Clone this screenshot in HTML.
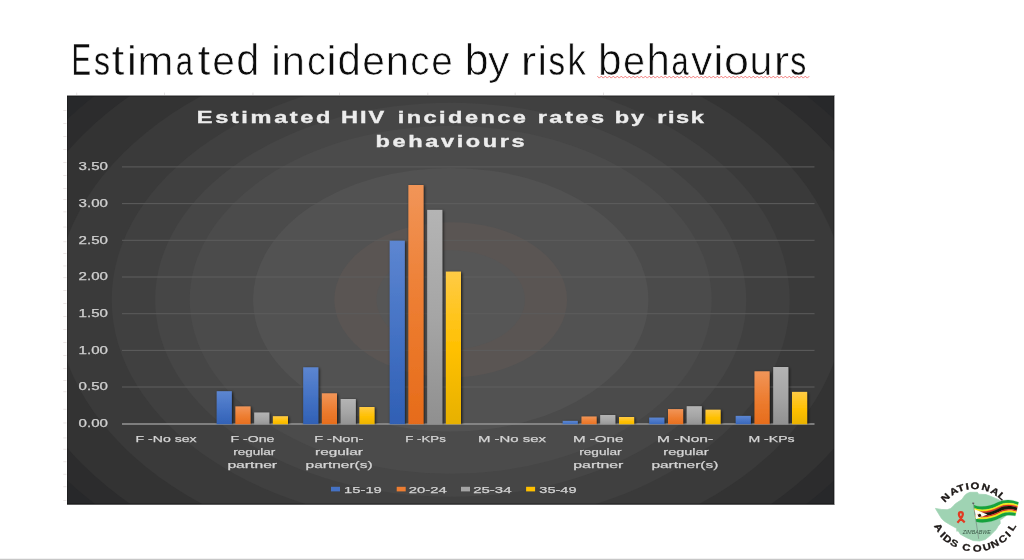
<!DOCTYPE html>
<html><head><meta charset="utf-8"><title>Estimated incidence by risk behaviours</title>
<style>html,body{margin:0;padding:0;background:#fff;}body{width:1024px;height:560px;overflow:hidden;font-family:"Liberation Sans",sans-serif;}svg{display:block;}text{font-family:"Liberation Sans",sans-serif;}</style>
</head><body>
<svg width="1024" height="560" viewBox="0 0 1024 560">
<defs>
<clipPath id="cb"><rect x="100" y="150" width="740" height="274.3"/></clipPath>
<clipPath id="cc"><rect x="67" y="96" width="767" height="408"/></clipPath>
<linearGradient id="gb" x1="0" y1="0" x2="0" y2="1"><stop offset="0" stop-color="#5d86d1"/><stop offset="0.5" stop-color="#4472c4"/><stop offset="1" stop-color="#2f5fb4"/></linearGradient>
<linearGradient id="go" x1="0" y1="0" x2="0" y2="1"><stop offset="0" stop-color="#f19558"/><stop offset="0.5" stop-color="#ed7d31"/><stop offset="1" stop-color="#e66b19"/></linearGradient>
<linearGradient id="gg" x1="0" y1="0" x2="0" y2="1"><stop offset="0" stop-color="#b4b4b4"/><stop offset="0.5" stop-color="#a5a5a5"/><stop offset="1" stop-color="#8f8f8f"/></linearGradient>
<linearGradient id="gy" x1="0" y1="0" x2="0" y2="1"><stop offset="0" stop-color="#ffcb45"/><stop offset="0.5" stop-color="#ffc000"/><stop offset="1" stop-color="#e6b000"/></linearGradient>
<filter id="sh" x="-50%" y="-20%" width="200%" height="140%"><feGaussianBlur in="SourceAlpha" stdDeviation="1.6" result="b"/><feOffset in="b" dx="0.8" dy="0.6" result="o"/><feComponentTransfer in="o" result="s"><feFuncA type="linear" slope="0.75"/></feComponentTransfer><feGaussianBlur in="SourceGraphic" stdDeviation="0.45" result="g"/><feMerge><feMergeNode in="s"/><feMergeNode in="g"/></feMerge></filter>
<filter id="bl" x="-5%" y="-30%" width="110%" height="160%"><feGaussianBlur stdDeviation="0.55"/></filter>
<filter id="bl2" x="-5%" y="-30%" width="110%" height="160%"><feGaussianBlur stdDeviation="0.3"/></filter>
<filter id="lb" x="-10%" y="-10%" width="120%" height="120%"><feGaussianBlur stdDeviation="0.4"/></filter>
</defs>
<g fill="#0c0c0c" font-size="41.5" opacity="0.999" stroke="#ffffff" paint-order="fill stroke">
<text transform="translate(71.58,74.60) scale(0.706,1.060)" stroke-width="0.3" vector-effect="non-scaling-stroke">E</text>
<text transform="translate(94.12,74.60) scale(0.771,1.000)" stroke-width="0.3" vector-effect="non-scaling-stroke">s</text>
<text transform="translate(111.48,74.60) scale(1.120,1.030)" stroke-width="0.7" vector-effect="non-scaling-stroke">t</text>
<text transform="translate(126.91,74.60) scale(1.060,1.000)" stroke-width="0.35" vector-effect="non-scaling-stroke">i</text>
<text transform="translate(137.16,74.60) scale(1.050,1.000)" stroke-width="0.7" vector-effect="non-scaling-stroke">m</text>
<text transform="translate(175.69,74.60) scale(0.744,1.000)" stroke-width="0.3" vector-effect="non-scaling-stroke">a</text>
<text transform="translate(197.38,74.60) scale(1.120,1.030)" stroke-width="0.7" vector-effect="non-scaling-stroke">t</text>
<text transform="translate(212.36,74.60) scale(0.984,1.000)" stroke-width="0.7" vector-effect="non-scaling-stroke">e</text>
<text transform="translate(236.23,74.60) scale(1.001,1.090)" stroke-width="0.7" vector-effect="non-scaling-stroke">d</text>
<text transform="translate(271.28,74.60) scale(1.033,1.000)" stroke-width="0.35" vector-effect="non-scaling-stroke">i</text>
<text transform="translate(281.79,74.60) scale(1.004,1.000)" stroke-width="0.7" vector-effect="non-scaling-stroke">n</text>
<text transform="translate(306.89,74.60) scale(0.913,1.000)" stroke-width="0.7" vector-effect="non-scaling-stroke">c</text>
<text transform="translate(326.78,74.60) scale(1.033,1.000)" stroke-width="0.35" vector-effect="non-scaling-stroke">i</text>
<text transform="translate(337.41,74.60) scale(1.012,1.090)" stroke-width="0.7" vector-effect="non-scaling-stroke">d</text>
<text transform="translate(362.16,74.60) scale(0.984,1.000)" stroke-width="0.7" vector-effect="non-scaling-stroke">e</text>
<text transform="translate(385.87,74.60) scale(1.009,1.000)" stroke-width="0.7" vector-effect="non-scaling-stroke">n</text>
<text transform="translate(410.36,74.60) scale(0.930,1.000)" stroke-width="0.7" vector-effect="non-scaling-stroke">c</text>
<text transform="translate(431.25,74.60) scale(0.933,1.000)" stroke-width="0.7" vector-effect="non-scaling-stroke">e</text>
<text transform="translate(464.71,74.60) scale(1.033,1.090)" stroke-width="0.7" vector-effect="non-scaling-stroke">b</text>
<text transform="translate(487.89,74.60) scale(1.032,1.000)" stroke-width="0.7" vector-effect="non-scaling-stroke">y</text>
<text transform="translate(520.86,74.60) scale(1.120,1.000)" stroke-width="0.7" vector-effect="non-scaling-stroke">r</text>
<text transform="translate(537.98,74.60) scale(0.936,1.000)" stroke-width="0.3" vector-effect="non-scaling-stroke">i</text>
<text transform="translate(548.49,74.60) scale(0.799,1.000)" stroke-width="0.3" vector-effect="non-scaling-stroke">s</text>
<text transform="translate(567.16,74.60) scale(0.908,1.090)" stroke-width="0.7" vector-effect="non-scaling-stroke">k</text>
<text transform="translate(598.04,74.60) scale(1.023,1.090)" stroke-width="0.7" vector-effect="non-scaling-stroke">b</text>
<text transform="translate(622.91,74.60) scale(0.959,1.000)" stroke-width="0.7" vector-effect="non-scaling-stroke">e</text>
<text transform="translate(646.57,74.60) scale(1.009,1.090)" stroke-width="0.7" vector-effect="non-scaling-stroke">h</text>
<text transform="translate(671.60,74.60) scale(0.739,1.000)" stroke-width="0.3" vector-effect="non-scaling-stroke">a</text>
<text transform="translate(691.09,74.60) scale(1.027,1.000)" stroke-width="0.7" vector-effect="non-scaling-stroke">v</text>
<text transform="translate(713.86,74.60) scale(1.005,1.000)" stroke-width="0.35" vector-effect="non-scaling-stroke">i</text>
<text transform="translate(723.89,74.60) scale(1.081,1.000)" stroke-width="0.7" vector-effect="non-scaling-stroke">o</text>
<text transform="translate(749.52,74.60) scale(0.992,1.000)" stroke-width="0.7" vector-effect="non-scaling-stroke">u</text>
<text transform="translate(773.76,74.60) scale(1.120,1.000)" stroke-width="0.7" vector-effect="non-scaling-stroke">r</text>
<text transform="translate(790.22,74.60) scale(0.771,1.000)" stroke-width="0.3" vector-effect="non-scaling-stroke">s</text>
</g>
<polyline points="597.3,76.1 599.3,78.1 601.3,76.1 603.3,78.1 605.3,76.1 607.3,78.1 609.3,76.1 611.3,78.1 613.3,76.1 615.3,78.1 617.3,76.1 619.3,78.1 621.3,76.1 623.3,78.1 625.3,76.1 627.3,78.1 629.3,76.1 631.3,78.1 633.3,76.1 635.3,78.1 637.3,76.1 639.3,78.1 641.3,76.1 643.3,78.1 645.3,76.1 647.3,78.1 649.3,76.1 651.3,78.1 653.3,76.1 655.3,78.1 657.3,76.1 659.3,78.1 661.3,76.1 663.3,78.1 665.3,76.1 667.3,78.1 669.3,76.1 671.3,78.1 673.3,76.1 675.3,78.1 677.3,76.1 679.3,78.1 681.3,76.1 683.3,78.1 685.3,76.1 687.3,78.1 689.3,76.1 691.3,78.1 693.3,76.1 695.3,78.1 697.3,76.1 699.3,78.1 701.3,76.1 703.3,78.1 705.3,76.1 707.3,78.1 709.3,76.1 711.3,78.1 713.3,76.1 715.3,78.1 717.3,76.1 719.3,78.1 721.3,76.1 723.3,78.1 725.3,76.1 727.3,78.1 729.3,76.1 731.3,78.1 733.3,76.1 735.3,78.1 737.3,76.1 739.3,78.1 741.3,76.1 743.3,78.1 745.3,76.1 747.3,78.1 749.3,76.1 751.3,78.1 753.3,76.1 755.3,78.1 757.3,76.1 759.3,78.1 761.3,76.1 763.3,78.1 765.3,76.1 767.3,78.1 769.3,76.1 771.3,78.1 773.3,76.1 775.3,78.1 777.3,76.1 779.3,78.1 781.3,76.1 783.3,78.1 785.3,76.1 787.3,78.1 789.3,76.1 791.3,78.1 793.3,76.1 795.3,78.1 797.3,76.1 799.3,78.1 801.3,76.1 803.3,78.1 805.3,76.1 807.3,78.1 809.3,76.1" fill="none" stroke="#f0504e" stroke-width="0.9" stroke-linejoin="round" opacity="0.8"/>
<g clip-path="url(#cc)">
<rect x="66" y="95" width="769" height="410" fill="#27282a"/>
<ellipse cx="450.7" cy="299.8" rx="469.5" ry="313" fill="#2c2c2d"/>
<ellipse cx="450.7" cy="299.8" rx="443.25" ry="295.5" fill="#333333"/>
<ellipse cx="450.7" cy="299.8" rx="394.5" ry="263" fill="#3a3a3a"/>
<ellipse cx="450.7" cy="299.8" rx="339" ry="226" fill="#404040"/>
<ellipse cx="450.7" cy="299.8" rx="295.5" ry="197" fill="#464646"/>
<ellipse cx="450.7" cy="299.8" rx="261" ry="174" fill="#4b4b4b"/>
<ellipse cx="450.7" cy="299.8" rx="197.7" ry="131.8" fill="#525252"/>
<ellipse cx="450.7" cy="299.8" rx="116.4" ry="77.6" fill="#5a5553"/>
<ellipse cx="450.7" cy="299.8" rx="74.25" ry="49.5" fill="#565656"/>
</g>
<rect x="67" y="96" width="767" height="1" fill="#000" opacity="0.22"/>
<rect x="67" y="96" width="1" height="408" fill="#000" opacity="0.22"/>
<rect x="833" y="96" width="1" height="408" fill="#000" opacity="0.22"/>
<rect x="67" y="503" width="767" height="1" fill="#000" opacity="0.22"/>
<rect x="67" y="95" width="767.4" height="1" fill="#2b2b2d" opacity="0.5"/>
<rect x="67" y="504" width="767.4" height="1" fill="#252527" opacity="0.75"/>
<rect x="834" y="95.5" width="1" height="409" fill="#252527" opacity="0.4"/>
<rect x="63.3" y="211.4" width="3.2" height="0.9" fill="#e9e3e3"/>
<rect x="63.3" y="226.6" width="3.2" height="0.9" fill="#e9e3e3"/>
<rect x="63.3" y="241.3" width="3.2" height="0.9" fill="#e9e3e3"/>
<rect x="63.3" y="253.1" width="3.2" height="0.9" fill="#e9e3e3"/>
<rect x="63.3" y="265.5" width="3.2" height="0.9" fill="#e9e3e3"/>
<rect x="63.3" y="277.2" width="3.2" height="0.9" fill="#e9e3e3"/>
<rect x="63.3" y="391.3" width="3.2" height="0.9" fill="#e9e3e3"/>
<rect x="63.3" y="408.8" width="3.2" height="0.9" fill="#e9e3e3"/>
<rect x="63.3" y="422.5" width="3.2" height="0.9" fill="#e9e3e3"/>
<rect x="63.3" y="437.5" width="3.2" height="0.9" fill="#e9e3e3"/>
<rect x="63.3" y="448.8" width="3.2" height="0.9" fill="#e9e3e3"/>
<rect x="63.3" y="461.3" width="3.2" height="0.9" fill="#e9e3e3"/>
<rect x="63.3" y="473.8" width="3.2" height="0.9" fill="#e9e3e3"/>
<rect x="63.3" y="486.3" width="3.2" height="0.9" fill="#e9e3e3"/>
<rect x="63.3" y="500.0" width="3.2" height="0.9" fill="#e9e3e3"/>
<rect x="63.3" y="110.0" width="3.2" height="0.9" fill="#e9e3e3"/>
<rect x="63.3" y="123.0" width="3.2" height="0.9" fill="#e9e3e3"/>
<rect x="63.3" y="136.0" width="3.2" height="0.9" fill="#e9e3e3"/>
<rect x="63.3" y="149.0" width="3.2" height="0.9" fill="#e9e3e3"/>
<rect x="63.3" y="162.0" width="3.2" height="0.9" fill="#e9e3e3"/>
<rect x="63.3" y="175.0" width="3.2" height="0.9" fill="#e9e3e3"/>
<rect x="63.3" y="188.0" width="3.2" height="0.9" fill="#e9e3e3"/>
<rect x="63.3" y="199.0" width="3.2" height="0.9" fill="#e9e3e3"/>
<rect x="63.3" y="290.0" width="3.2" height="0.9" fill="#e9e3e3"/>
<rect x="63.3" y="303.0" width="3.2" height="0.9" fill="#e9e3e3"/>
<rect x="63.3" y="316.0" width="3.2" height="0.9" fill="#e9e3e3"/>
<rect x="63.3" y="329.0" width="3.2" height="0.9" fill="#e9e3e3"/>
<rect x="63.3" y="342.0" width="3.2" height="0.9" fill="#e9e3e3"/>
<rect x="63.3" y="355.0" width="3.2" height="0.9" fill="#e9e3e3"/>
<rect x="63.3" y="368.0" width="3.2" height="0.9" fill="#e9e3e3"/>
<rect x="63.3" y="380.0" width="3.2" height="0.9" fill="#e9e3e3"/>
<rect x="76.3" y="92.6" width="0.9" height="2.4" fill="#e4e0e0"/>
<rect x="164.0" y="92.6" width="0.9" height="2.4" fill="#e4e0e0"/>
<rect x="252.5" y="92.6" width="0.9" height="2.4" fill="#e4e0e0"/>
<rect x="339.0" y="92.6" width="0.9" height="2.4" fill="#e4e0e0"/>
<rect x="427.4" y="92.6" width="0.9" height="2.4" fill="#e4e0e0"/>
<rect x="514.7" y="92.6" width="0.9" height="2.4" fill="#e4e0e0"/>
<rect x="603.0" y="92.6" width="0.9" height="2.4" fill="#e4e0e0"/>
<rect x="691.5" y="92.6" width="0.9" height="2.4" fill="#e4e0e0"/>
<rect x="778.0" y="92.6" width="0.9" height="2.4" fill="#e4e0e0"/>
<g filter="url(#bl2)">
<line x1="122" y1="166.9" x2="814.5" y2="166.9" stroke="#5d5d5d" stroke-width="1"/>
<line x1="122" y1="203.6" x2="814.5" y2="203.6" stroke="#5d5d5d" stroke-width="1"/>
<line x1="122" y1="240.3" x2="814.5" y2="240.3" stroke="#5d5d5d" stroke-width="1"/>
<line x1="122" y1="277.0" x2="814.5" y2="277.0" stroke="#5d5d5d" stroke-width="1"/>
<line x1="122" y1="313.7" x2="814.5" y2="313.7" stroke="#5d5d5d" stroke-width="1"/>
<line x1="122" y1="350.4" x2="814.5" y2="350.4" stroke="#5d5d5d" stroke-width="1"/>
<line x1="122" y1="387.0" x2="814.5" y2="387.0" stroke="#5d5d5d" stroke-width="1"/>
<line x1="122" y1="424.0" x2="814.5" y2="424.0" stroke="#959595" stroke-width="1.7"/>
</g>
<g clip-path="url(#cb)"><g filter="url(#sh)">
<rect x="216.7" y="391.2" width="15.1" height="35.5" fill="url(#gb)"/>
<rect x="235.4" y="406.4" width="15.1" height="20.3" fill="url(#go)"/>
<rect x="254.2" y="412.5" width="15.1" height="14.2" fill="url(#gg)"/>
<rect x="272.9" y="416.2" width="15.1" height="10.5" fill="url(#gy)"/>
<rect x="303.2" y="367.3" width="15.1" height="59.4" fill="url(#gb)"/>
<rect x="321.9" y="393.3" width="15.1" height="33.4" fill="url(#go)"/>
<rect x="340.7" y="399.0" width="15.1" height="27.7" fill="url(#gg)"/>
<rect x="359.4" y="407.0" width="15.1" height="19.7" fill="url(#gy)"/>
<rect x="389.7" y="240.7" width="15.1" height="186.0" fill="url(#gb)"/>
<rect x="408.4" y="185.0" width="15.1" height="241.7" fill="url(#go)"/>
<rect x="427.2" y="209.9" width="15.1" height="216.8" fill="url(#gg)"/>
<rect x="445.9" y="271.6" width="15.1" height="155.1" fill="url(#gy)"/>
<rect x="562.7" y="420.9" width="15.1" height="5.8" fill="url(#gb)"/>
<rect x="581.5" y="416.5" width="15.1" height="10.2" fill="url(#go)"/>
<rect x="600.2" y="415.0" width="15.1" height="11.7" fill="url(#gg)"/>
<rect x="619.0" y="417.0" width="15.1" height="9.7" fill="url(#gy)"/>
<rect x="649.2" y="417.6" width="15.1" height="9.1" fill="url(#gb)"/>
<rect x="668.0" y="409.1" width="15.1" height="17.6" fill="url(#go)"/>
<rect x="686.7" y="406.2" width="15.1" height="20.5" fill="url(#gg)"/>
<rect x="705.5" y="409.7" width="15.1" height="17.0" fill="url(#gy)"/>
<rect x="735.7" y="415.9" width="15.1" height="10.8" fill="url(#gb)"/>
<rect x="754.5" y="371.3" width="15.1" height="55.4" fill="url(#go)"/>
<rect x="773.2" y="367.0" width="15.1" height="59.7" fill="url(#gg)"/>
<rect x="792.0" y="391.9" width="15.1" height="34.8" fill="url(#gy)"/>
</g></g>
<g filter="url(#bl)">
<g stroke="#ededed" stroke-width="0.35">
<text transform="translate(196.8,122.6) scale(1.42,1)" font-size="16.6" font-weight="bold" fill="#ededed" textLength="94.15" lengthAdjust="spacing">Estimated</text>
<text transform="translate(341.1,122.6) scale(1.42,1)" font-size="16.6" font-weight="bold" fill="#ededed" textLength="30.35" lengthAdjust="spacing">HIV</text>
<text transform="translate(397.8,122.6) scale(1.42,1)" font-size="16.6" font-weight="bold" fill="#ededed" textLength="90.21" lengthAdjust="spacing">incidence</text>
<text transform="translate(537.7,122.6) scale(1.42,1)" font-size="16.6" font-weight="bold" fill="#ededed" textLength="46.76" lengthAdjust="spacing">rates</text>
<text transform="translate(614.8,122.6) scale(1.42,1)" font-size="16.6" font-weight="bold" fill="#ededed" textLength="20.70" lengthAdjust="spacing">by</text>
<text transform="translate(657.2,122.6) scale(1.42,1)" font-size="16.6" font-weight="bold" fill="#ededed" textLength="32.89" lengthAdjust="spacing">risk</text>
<text transform="translate(375.6,147.0) scale(1.42,1)" font-size="16.6" font-weight="bold" fill="#ededed" textLength="104.93" lengthAdjust="spacing">behaviours</text>
</g>
<g stroke="#d4d4d4" stroke-width="0.25">
<text x="78.6" y="170.1" font-size="10" font-weight="normal" fill="#cfcfcf" textLength="29.3" lengthAdjust="spacingAndGlyphs">3.50</text>
<text x="78.6" y="206.8" font-size="10" font-weight="normal" fill="#cfcfcf" textLength="29.3" lengthAdjust="spacingAndGlyphs">3.00</text>
<text x="78.6" y="243.5" font-size="10" font-weight="normal" fill="#cfcfcf" textLength="29.3" lengthAdjust="spacingAndGlyphs">2.50</text>
<text x="78.6" y="280.2" font-size="10" font-weight="normal" fill="#cfcfcf" textLength="29.3" lengthAdjust="spacingAndGlyphs">2.00</text>
<text x="78.6" y="316.9" font-size="10" font-weight="normal" fill="#cfcfcf" textLength="29.3" lengthAdjust="spacingAndGlyphs">1.50</text>
<text x="78.6" y="353.6" font-size="10" font-weight="normal" fill="#cfcfcf" textLength="29.3" lengthAdjust="spacingAndGlyphs">1.00</text>
<text x="78.6" y="390.2" font-size="10" font-weight="normal" fill="#cfcfcf" textLength="29.3" lengthAdjust="spacingAndGlyphs">0.50</text>
<text x="78.6" y="426.9" font-size="10" font-weight="normal" fill="#cfcfcf" textLength="29.3" lengthAdjust="spacingAndGlyphs">0.00</text>
<text x="135.6" y="441.5" font-size="9.6" font-weight="normal" fill="#d4d4d4" textLength="61.0" lengthAdjust="spacingAndGlyphs">F -No sex</text>
<text x="230.5" y="441.5" font-size="9.6" font-weight="normal" fill="#d4d4d4" textLength="43.8" lengthAdjust="spacingAndGlyphs">F -One</text>
<text x="233.3" y="454.9" font-size="9.6" font-weight="normal" fill="#d4d4d4" textLength="42.0" lengthAdjust="spacingAndGlyphs">regular</text>
<text x="227.4" y="468.2" font-size="9.6" font-weight="normal" fill="#d4d4d4" textLength="49.7" lengthAdjust="spacingAndGlyphs">partner</text>
<text x="314.2" y="441.5" font-size="9.6" font-weight="normal" fill="#d4d4d4" textLength="49.1" lengthAdjust="spacingAndGlyphs">F -Non-</text>
<text x="315.1" y="454.9" font-size="9.6" font-weight="normal" fill="#d4d4d4" textLength="47.7" lengthAdjust="spacingAndGlyphs">regular</text>
<text x="305.6" y="468.2" font-size="9.6" font-weight="normal" fill="#d4d4d4" textLength="67.0" lengthAdjust="spacingAndGlyphs">partner(s)</text>
<text x="405.3" y="441.5" font-size="9.6" font-weight="normal" fill="#d4d4d4" textLength="40.5" lengthAdjust="spacingAndGlyphs">F -KPs</text>
<text x="478.0" y="441.5" font-size="9.6" font-weight="normal" fill="#d4d4d4" textLength="68.0" lengthAdjust="spacingAndGlyphs">M -No sex</text>
<text x="573.0" y="441.5" font-size="9.6" font-weight="normal" fill="#d4d4d4" textLength="50.4" lengthAdjust="spacingAndGlyphs">M -One</text>
<text x="579.3" y="454.9" font-size="9.6" font-weight="normal" fill="#d4d4d4" textLength="42.3" lengthAdjust="spacingAndGlyphs">regular</text>
<text x="573.3" y="468.2" font-size="9.6" font-weight="normal" fill="#d4d4d4" textLength="50.1" lengthAdjust="spacingAndGlyphs">partner</text>
<text x="657.0" y="441.5" font-size="9.6" font-weight="normal" fill="#d4d4d4" textLength="56.1" lengthAdjust="spacingAndGlyphs">M -Non-</text>
<text x="663.3" y="454.9" font-size="9.6" font-weight="normal" fill="#d4d4d4" textLength="45.2" lengthAdjust="spacingAndGlyphs">regular</text>
<text x="651.4" y="468.2" font-size="9.6" font-weight="normal" fill="#d4d4d4" textLength="66.9" lengthAdjust="spacingAndGlyphs">partner(s)</text>
<text x="748.4" y="441.5" font-size="9.6" font-weight="normal" fill="#d4d4d4" textLength="46.2" lengthAdjust="spacingAndGlyphs">M -KPs</text>
<rect x="331.0" y="486.8" width="9" height="4.6" fill="#4472c4" stroke="none"/>
<text x="344.1" y="492.5" font-size="9.6" font-weight="normal" fill="#d4d4d4" textLength="37.7" lengthAdjust="spacingAndGlyphs">15-19</text>
<rect x="396.7" y="486.8" width="9" height="4.6" fill="#ed7d31" stroke="none"/>
<text x="408.8" y="492.5" font-size="9.6" font-weight="normal" fill="#d4d4d4" textLength="38.0" lengthAdjust="spacingAndGlyphs">20-24</text>
<rect x="461.0" y="486.8" width="9" height="4.6" fill="#a5a5a5" stroke="none"/>
<text x="473.2" y="492.5" font-size="9.6" font-weight="normal" fill="#d4d4d4" textLength="38.3" lengthAdjust="spacingAndGlyphs">25-34</text>
<rect x="526.1" y="486.8" width="9" height="4.6" fill="#ffc000" stroke="none"/>
<text x="539.3" y="492.5" font-size="9.6" font-weight="normal" fill="#d4d4d4" textLength="37.3" lengthAdjust="spacingAndGlyphs">35-49</text>
</g>
</g>
<g filter="url(#lb)">
<g transform="translate(930,476) scale(0.142857)">
<polygon points="38,227 80,234 120,236 144,228 160,214 176,196 190,186 224,164 240,140 256,124 280,114 332,114 340,127 392,130 420,140 476,164 500,176 530,200 540,240 530,280 505,300 490,306 492,332 476,352 463,375 443,394 418,420 386,445 347,455 302,452 257,432 212,407 196,382 188,388 186,366 160,352 132,336 100,316 80,296 60,264" fill="#9fd3b3" stroke="#9fd3b3" stroke-width="5" stroke-linejoin="round"/>
<text x="229" y="407" font-size="31" font-style="italic" font-weight="normal" fill="#2f4a3a" opacity="0.9" textLength="196" lengthAdjust="spacingAndGlyphs">ZIMBABWE</text>
<line x1="303" y1="192" x2="341" y2="440" stroke="#6f7f78" stroke-width="4"/>
<circle cx="303" cy="190" r="7" fill="#555"/>
<circle cx="305" cy="188" r="3" fill="#ddd"/>
<path d="M308.0,203.0 C350.0,224.0 420.0,214.0 472.0,186.0 C525.0,158.0 580.0,166.0 620.0,184.0 L615.4,203.0 C578.0,187.8 527.0,180.2 476.0,207.4 C424.0,235.4 355.0,245.8 311.2,226.6 Z" fill="#18a23e" stroke="#18a23e" stroke-width="1.5"/>
<path d="M311.2,226.6 C355.0,245.8 424.0,235.4 476.0,207.4 C527.0,180.2 578.0,187.8 615.4,203.0 L612.9,213.4 C576.9,199.8 528.1,192.4 478.2,219.2 C426.2,247.2 357.8,257.8 313.0,239.6 Z" fill="#f2e818" stroke="#f2e818" stroke-width="1.5"/>
<path d="M313.0,239.6 C357.8,257.8 426.2,247.2 478.2,219.2 C528.1,192.4 576.9,199.8 612.9,213.4 L610.8,222.0 C576.0,209.6 529.0,202.4 480.0,228.8 C428.0,256.8 360.0,267.6 314.4,250.2 Z" fill="#e3301a" stroke="#e3301a" stroke-width="1.5"/>
<path d="M314.4,250.2 C360.0,267.6 428.0,256.8 480.0,228.8 C529.0,202.4 576.0,209.6 610.8,222.0 L606.2,241.0 C574.0,231.4 531.0,224.6 484.0,250.2 C432.0,278.2 365.0,289.4 317.6,273.8 Z" fill="#161210" stroke="#161210" stroke-width="1.5"/>
<path d="M317.6,273.8 C365.0,289.4 432.0,278.2 484.0,250.2 C531.0,224.6 574.0,231.4 606.2,241.0 L604.1,249.6 C573.1,241.2 531.9,234.6 485.8,259.8 C433.8,287.8 367.2,299.2 319.0,284.4 Z" fill="#e3301a" stroke="#e3301a" stroke-width="1.5"/>
<path d="M319.0,284.4 C367.2,299.2 433.8,287.8 485.8,259.8 C531.9,234.6 573.1,241.2 604.1,249.6 L601.6,260.0 C572.0,253.2 533.0,246.8 488.0,271.6 C436.0,299.6 370.0,311.2 320.8,297.4 Z" fill="#f2e818" stroke="#f2e818" stroke-width="1.5"/>
<path d="M320.8,297.4 C370.0,311.2 436.0,299.6 488.0,271.6 C533.0,246.8 572.0,253.2 601.6,260.0 L597.0,279.0 C570.0,275.0 535.0,269.0 492.0,293.0 C440.0,321.0 375.0,333.0 324.0,321.0 Z" fill="#18a23e" stroke="#18a23e" stroke-width="1.5"/>
<polygon points="312,232 402,270 322,303" fill="#fbfbf3"/>
<ellipse cx="347" cy="276" rx="11" ry="11" fill="#2a1a10"/>
<circle cx="336" cy="268" r="4" fill="#d8602a"/><circle cx="358" cy="284" r="4" fill="#d8602a"/>
<path d="M192,327 C206,312 229,288 230,268 C230,247 202,247 202,268 C203,288 226,310 243,324" fill="none" stroke="#e13a22" stroke-width="15.5" stroke-linecap="butt"/>
</g>
<g font-size="9.4" font-weight="bold" fill="#1c1715" stroke="#1c1715" stroke-width="0.3">
<text transform="translate(945.30,497.48) rotate(-44.2) scale(1.2,1)" text-anchor="middle" y="3.37">N</text>
<text transform="translate(953.69,491.16) rotate(-29.7) scale(1.2,1)" text-anchor="middle" y="3.37">A</text>
<text transform="translate(960.76,487.97) rotate(-19.0) scale(1.2,1)" text-anchor="middle" y="3.37">T</text>
<text transform="translate(967.22,486.31) rotate(-9.8) scale(1.2,1)" text-anchor="middle" y="3.37">I</text>
<text transform="translate(975.03,485.71) rotate(1.0) scale(1.2,1)" text-anchor="middle" y="3.37">O</text>
<text transform="translate(985.77,487.31) rotate(16.0) scale(1.2,1)" text-anchor="middle" y="3.37">N</text>
<text transform="translate(995.04,491.24) rotate(29.9) scale(1.2,1)" text-anchor="middle" y="3.37">A</text>
<text transform="translate(1001.70,496.00) rotate(41.2) scale(1.2,1)" text-anchor="middle" y="3.37">L</text>
<text transform="translate(938.83,527.59) rotate(56.3) scale(1.2,1)" text-anchor="middle" y="3.37">A</text>
<text transform="translate(942.93,534.58) rotate(45.9) scale(1.2,1)" text-anchor="middle" y="3.37">I</text>
<text transform="translate(947.64,538.80) rotate(37.8) scale(1.2,1)" text-anchor="middle" y="3.37">D</text>
<text transform="translate(954.28,543.07) rotate(27.7) scale(1.2,1)" text-anchor="middle" y="3.37">S</text>
<text transform="translate(966.32,547.33) rotate(11.3) scale(1.2,1)" text-anchor="middle" y="3.37">C</text>
<text transform="translate(977.29,548.15) rotate(-2.8) scale(1.2,1)" text-anchor="middle" y="3.37">O</text>
<text transform="translate(986.70,546.67) rotate(-15.0) scale(1.2,1)" text-anchor="middle" y="3.37">U</text>
<text transform="translate(994.60,543.73) rotate(-25.8) scale(1.2,1)" text-anchor="middle" y="3.37">N</text>
<text transform="translate(1002.56,538.80) rotate(-37.8) scale(1.2,1)" text-anchor="middle" y="3.37">C</text>
<text transform="translate(1007.86,533.95) rotate(-47.0) scale(1.2,1)" text-anchor="middle" y="3.37">I</text>
<text transform="translate(1011.75,527.02) rotate(-57.2) scale(1.2,1)" text-anchor="middle" y="3.37">L</text>
</g>
</g>
<rect x="0" y="558.75" width="1024" height="2" fill="#c7c7c7"/>
</svg></body></html>
